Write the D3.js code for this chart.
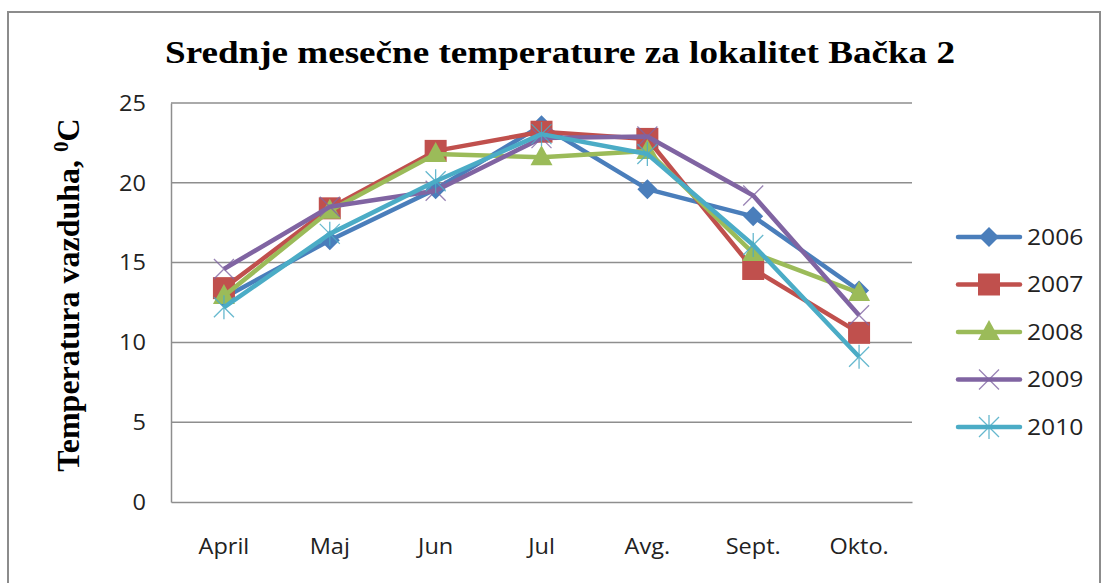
<!DOCTYPE html>
<html lang="sr">
<head>
<meta charset="UTF-8">
<script src="https://cdn.jsdelivr.net/npm/d3@7"></script>
<style>
  body { margin: 0; background: #fff; }
  svg { display: block; }
</style>
</head>
<body>
<script>
  var months = ['April', 'Maj', 'Jun', 'Jul', 'Avg.', 'Sept.', 'Okto.'];
  var years = ['2006', '2007', '2008', '2009', '2010'];
  var t2006 = [12.8, 16.4, 19.6, 23.6, 19.6, 17.9, 13.25];
  var t2007 = [13.4, 18.4, 22.0, 23.2, 22.75, 14.6, 10.6];
  var t2008 = [12.9, 18.25, 21.8, 21.6, 22.0, 15.6, 13.1];
  var t2009 = [14.6, 18.5, 19.5, 22.8, 22.9, 19.2, 11.7];
  var t2010 = [12.2, 16.8, 20.1, 23.05, 21.8, 16.1, 9.1];
  var yTicks = [0, 5, 10, 15, 20, 25];

  var series = [t2006, t2007, t2008, t2009, t2010];
  var colors = ['#4a7ebb', '#c0504d', '#9bbb59', '#8064a2', '#4bacc6'];
  var shapes = ['diamond', 'square', 'triangle', 'cross', 'star'];

  var width = 1109, height = 583;
  var plotL = 171, plotR = 912, plotT = 103, plotB = 502;

  var svg = d3.select('body').append('svg')
    .attr('width', width)
    .attr('height', height);

  // stretch a text horizontally, the source picture is a bit wide
  function widen(sel, k) {
    sel.each(function() {
      var w = this.getComputedTextLength();
      d3.select(this)
        .attr('textLength', w * k)
        .attr('lengthAdjust', 'spacingAndGlyphs');
    });
  }

  // outer frame
  svg.append('rect')
    .attr('x', 8).attr('y', 12)
    .attr('width', 1092).attr('height', 600)
    .attr('fill', 'none')
    .attr('stroke', '#8c8c8c')
    .attr('stroke-width', 2);

  var x = d3.scaleBand().domain(months).range([plotL, plotR]);
  var y = d3.scaleLinear().domain([0, 25]).range([plotB, plotT]);

  // gridlines
  svg.append('g').selectAll('line')
    .data(yTicks.slice(1))
    .enter().append('line')
    .attr('x1', plotL).attr('x2', plotR)
    .attr('y1', function(d) { return y(d); })
    .attr('y2', function(d) { return y(d); })
    .attr('stroke', '#8e8e8e')
    .attr('stroke-width', 1.5);

  // axes
  var yAxis = svg.append('g')
    .attr('transform', 'translate(' + plotL + ',0)')
    .call(d3.axisLeft(y).tickValues(yTicks).tickSize(0).tickPadding(25));
  var xAxis = svg.append('g')
    .attr('transform', 'translate(0,' + plotB + ')')
    .call(d3.axisBottom(x).tickSize(0).tickPadding(37));
  [yAxis, xAxis].forEach(function(a) {
    a.select('.domain').attr('stroke', '#8e8e8e').attr('stroke-width', 1.5);
    a.selectAll('text')
      .attr('fill', '#222')
      .style('font-family', '"Open Sans", sans-serif')
      .style('font-size', '21px');
    widen(a.selectAll('text'), 1.12);
  });
  yAxis.selectAll('text').attr('dy', '0.35em');

  // title
  svg.append('text')
    .attr('x', 560).attr('y', 63)
    .attr('text-anchor', 'middle')
    .attr('textLength', 790)
    .attr('lengthAdjust', 'spacingAndGlyphs')
    .style('font-family', '"Liberation Serif", serif')
    .style('font-weight', 'bold')
    .style('font-size', '31px')
    .text('Srednje mesečne temperature za lokalitet Bačka 2');

  // y label
  var yl = svg.append('text')
    .attr('transform', 'translate(79,295) rotate(-90)')
    .attr('text-anchor', 'middle')
    .style('font-family', '"Liberation Serif", serif')
    .style('font-weight', 'bold')
    .style('font-size', '32px');
  yl.append('tspan').text('Temperatura vazduha, ');
  yl.append('tspan').attr('dy', -11).style('font-size', '21px').text('0');
  yl.append('tspan').attr('dy', 11).text('C');

  function marker(g, shape, color, cx, cy) {
    if (shape === 'diamond') {
      g.append('path')
        .attr('d', 'M' + cx + ',' + (cy - 10) + 'L' + (cx + 10) + ',' + cy + 'L' + cx + ',' + (cy + 10) + 'L' + (cx - 10) + ',' + cy + 'Z')
        .attr('fill', color);
    } else if (shape === 'square') {
      g.append('rect')
        .attr('x', cx - 11).attr('y', cy - 11)
        .attr('width', 22).attr('height', 22)
        .attr('fill', color);
    } else if (shape === 'triangle') {
      g.append('path')
        .attr('d', 'M' + cx + ',' + (cy - 12) + 'L' + (cx + 11) + ',' + (cy + 8) + 'L' + (cx - 11) + ',' + (cy + 8) + 'Z')
        .attr('fill', color);
    } else if (shape === 'cross') {
      g.append('path')
        .attr('d', 'M' + (cx - 10) + ',' + (cy - 10) + 'L' + (cx + 10) + ',' + (cy + 10) + 'M' + (cx + 10) + ',' + (cy - 10) + 'L' + (cx - 10) + ',' + (cy + 10))
        .attr('stroke', color).attr('stroke-width', 1.3).attr('stroke-opacity', 0.8).attr('fill', 'none');
    } else {
      g.append('path')
        .attr('d', 'M' + (cx - 10) + ',' + (cy - 10) + 'L' + (cx + 10) + ',' + (cy + 10) + 'M' + (cx + 10) + ',' + (cy - 10) + 'L' + (cx - 10) + ',' + (cy + 10) + 'M' + cx + ',' + (cy - 12) + 'L' + cx + ',' + (cy + 12))
        .attr('stroke', color).attr('stroke-width', 1.3).attr('stroke-opacity', 0.85).attr('fill', 'none');
    }
  }

  var line = d3.line()
    .x(function(d, i) { return x(months[i]) + x.bandwidth() / 2; })
    .y(function(d) { return y(d); });

  series.forEach(function(vals, s) {
    var g = svg.append('g');
    g.append('path')
      .attr('d', line(vals))
      .attr('fill', 'none')
      .attr('stroke', colors[s])
      .attr('stroke-width', 4.5)
      .attr('stroke-linejoin', 'round');
    vals.forEach(function(v, i) {
      marker(g, shapes[s], colors[s], x(months[i]) + x.bandwidth() / 2, y(v));
    });
  });

  // legend
  var leg = svg.append('g');
  years.forEach(function(yr, i) {
    var ly = 237 + i * 47.5;
    leg.append('line')
      .attr('x1', 958).attr('x2', 1020)
      .attr('y1', ly).attr('y2', ly)
      .attr('stroke', colors[i])
      .attr('stroke-width', 4.5)
      .attr('stroke-linecap', 'round');
    marker(leg, shapes[i], colors[i], 989, ly);
    leg.append('text')
      .attr('x', 1027).attr('y', ly)
      .attr('dy', '0.35em')
      .attr('fill', '#222')
      .style('font-family', '"Open Sans", sans-serif')
      .style('font-size', '22px')
      .text(yr);
  });
  widen(leg.selectAll('text'), 1.12);
</script>
</body>
</html>
